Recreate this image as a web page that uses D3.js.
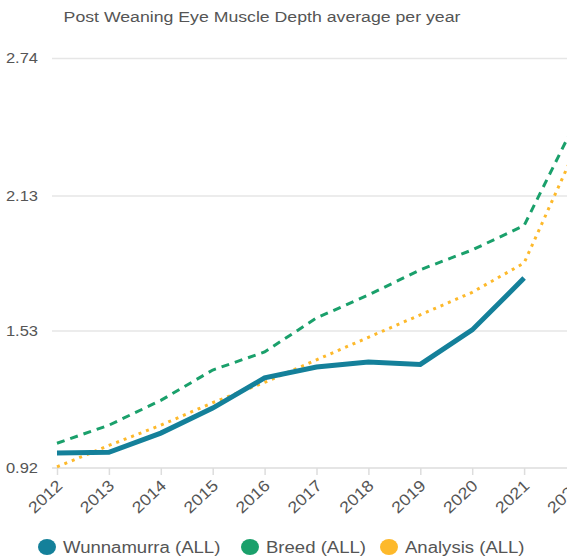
<!DOCTYPE html>
<html><head><meta charset="utf-8">
<script src="https://cdn.jsdelivr.net/npm/d3@7/dist/d3.min.js"></script>
<style>body{margin:0;background:#fff;}svg{display:block;font-family:"Liberation Sans",Arial,sans-serif;}</style>
</head><body><svg id="c" width="567" height="559"></svg>
<script>
const years = ["2012","2013","2014","2015","2016","2017","2018","2019","2020","2021","2022"];
const yTicks = [0.92, 1.53, 2.13, 2.74];
const wunnamurra = [0.987, 0.99, 1.075, 1.186, 1.32, 1.368, 1.39, 1.38, 1.533, 1.763, null];
const breed = [1.03, 1.11, 1.22, 1.355, 1.435, 1.586, 1.688, 1.80, 1.888, 1.996, 2.46];
const analysis = [0.925, 1.02, 1.11, 1.21, 1.30, 1.40, 1.50, 1.60, 1.70, 1.83, 2.34];
const seriesNames = ["Wunnamurra (ALL)", "Breed (ALL)", "Analysis (ALL)"];
const colors = ["#14809a", "#1aa06b", "#fdb92b"];

const svg = d3.select("#c");
const x = d3.scalePoint().domain(years).range([57, 576]);
const y = d3.scaleLinear().domain([0.92, 2.74]).range([468, 58]);

svg.append("text").attr("transform", "translate(262,22) scale(1.18,1)").attr("text-anchor", "middle")
  .attr("font-size", 15).attr("fill", "#555").text("Post Weaning Eye Muscle Depth average per year");

// grid
const yAxis = d3.axisLeft(y).tickValues(yTicks).tickFormat(d3.format(".2f")).tickSize(-(567 - 52)).tickPadding(0);
const gy = svg.append("g").attr("transform", "translate(52,0)").call(yAxis);
gy.select(".domain").remove();
gy.selectAll(".tick line").attr("stroke", "#e6e6e6").attr("stroke-width", 1.5);
gy.selectAll(".tick text").attr("font-size", 15).attr("fill", "#555").attr("x", null)
  .attr("font-family", "Liberation Sans, Arial, sans-serif")
  .attr("transform", "translate(-14,0) scale(1.1,1)");
gy.selectAll(".tick").filter(d => d === 0.92).select("line").remove();

const xAxis = d3.axisBottom(x).tickSize(7).tickSizeOuter(0);
const gx = svg.append("g").attr("transform", "translate(0,468)").call(xAxis);
gx.select(".domain").attr("stroke", "#ddd").attr("stroke-width", 1.5).attr("d", "M52,0H567");
gx.selectAll(".tick line").attr("stroke", "#ddd").attr("stroke-width", 1.5);
gx.selectAll(".tick text").attr("font-size", 16).attr("fill", "#555")
  .attr("font-family", "Liberation Sans, Arial, sans-serif")
  .attr("text-anchor", "end").attr("dy", 0).attr("y", 0)
  .attr("transform", "translate(6,19) rotate(-43) scale(1.12,1)");

const line = d3.line().defined(d => d.v != null).x(d => x(d.yr)).y(d => y(d.v));
const mk = arr => years.map((yr, i) => ({yr, v: arr[i]}));

svg.append("path").datum(mk(breed)).attr("d", line).attr("fill", "none")
  .attr("stroke", colors[1]).attr("stroke-width", 3).attr("stroke-dasharray", "8,6");
svg.append("path").datum(mk(analysis)).attr("d", line).attr("fill", "none")
  .attr("stroke", colors[2]).attr("stroke-width", 3).attr("stroke-dasharray", "3,5");
svg.append("path").datum(mk(wunnamurra)).attr("d", line).attr("fill", "none")
  .attr("stroke", colors[0]).attr("stroke-width", 5);

// legend
const legX = [47, 250, 389];
const lg = svg.append("g");
seriesNames.forEach((n, i) => {
  lg.append("ellipse").attr("cx", legX[i]).attr("cy", 547).attr("rx", 9).attr("ry", 8).attr("fill", colors[i]);
  lg.append("text").attr("transform", `translate(${legX[i] + 16},553) scale(1.16,1)`)
    .attr("font-size", 16).attr("fill", "#555").text(n);
});
</script></body></html>
